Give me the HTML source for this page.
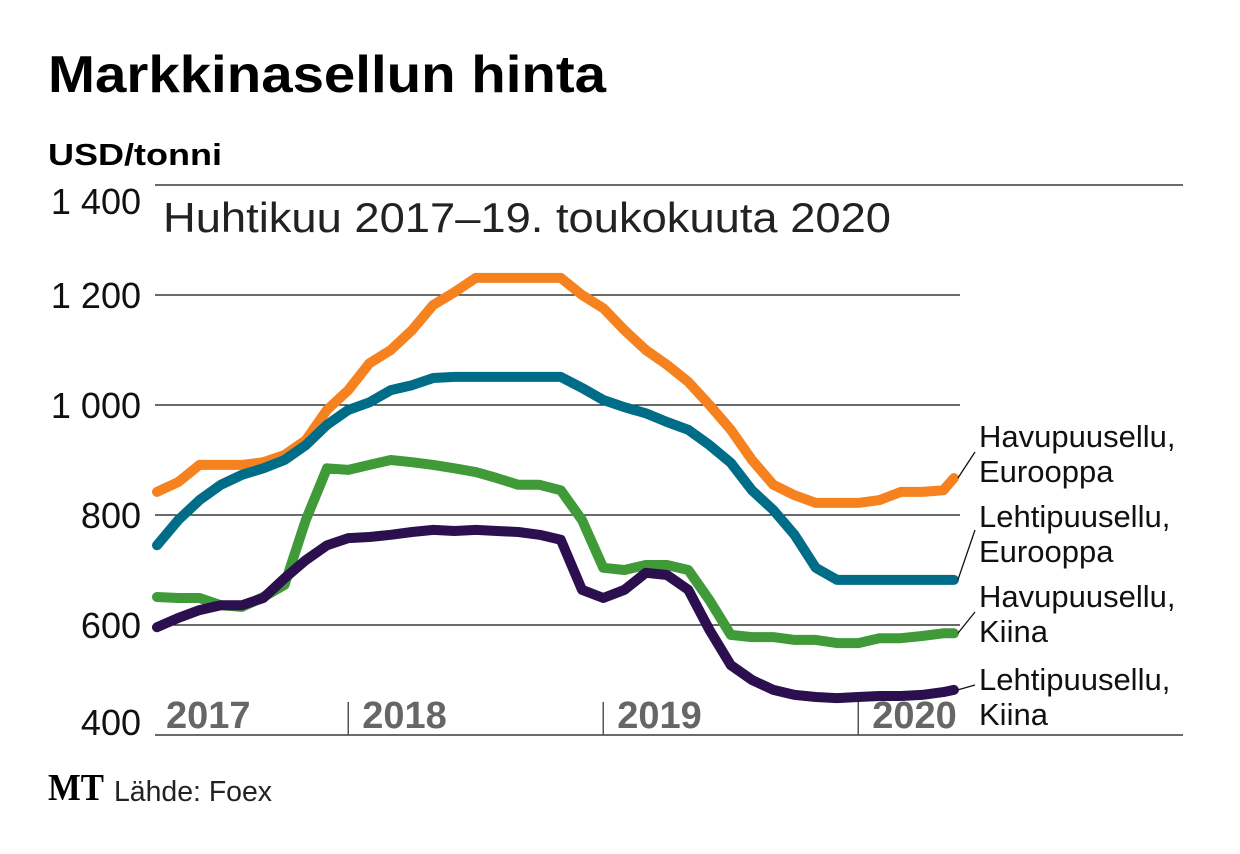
<!DOCTYPE html>
<html><head><meta charset="utf-8"><style>
body{margin:0;background:#fff;}
svg{display:block;font-family:"Liberation Sans",sans-serif;}
</style></head><body>
<svg id="chart" width="1240" height="854" viewBox="0 0 1240 854">
<text x="48" y="92" font-size="52" font-weight="bold" textLength="558" lengthAdjust="spacingAndGlyphs">Markkinasellun hinta</text>
<text x="48" y="165" font-size="31" font-weight="bold" textLength="174" lengthAdjust="spacingAndGlyphs">USD/tonni</text>
<g id="grid"></g>
<text x="163" y="232" font-size="42" fill="#222" textLength="728" lengthAdjust="spacingAndGlyphs">Huhtikuu 2017–19. toukokuuta 2020</text>
<g id="ylabels"></g>
<g id="years"></g>
<g id="lines"></g>
<g id="legend"></g>
<text x="48" y="800" font-size="38" font-weight="bold" font-family="Liberation Serif,serif" textLength="56" lengthAdjust="spacingAndGlyphs">MT</text>
<text x="114" y="801" font-size="29" fill="#222" textLength="158" lengthAdjust="spacingAndGlyphs">Lähde: Foex</text>
</svg>
<script>
const yTicks=[400,600,800,1000,1200,1400];
const yTickLabels=["400","600","800","1 000","1 200","1 400"];
const years=["2017","2018","2019","2020"];
const yearStartMonths=[-3,9,21,33];
const months=[0,1,2,3,4,5,6,7,8,9,10,11,12,13,14,15,16,17,18,19,20,21,22,23,24,25,26,27,28,29,30,31,32,33,34,35,36,37,37.5];
const havuEur=[842,860,891,891,891,896,909,936,991,1027,1076,1100,1136,1182,1205,1231,1231,1231,1231,1231,1200,1176,1136,1100,1073,1042,1000,955,900,855,836,822,822,822,827,842,842,845,867];
const lehtiEur=[745,791,827,855,873,885,900,927,964,991,1005,1027,1036,1049,1051,1051,1051,1051,1051,1051,1031,1009,996,985,969,955,927,895,845,809,764,704,682,682,682,682,682,682,682];
const havuKiina=[651,649,649,636,633,651,673,791,885,882,891,900,896,891,885,878,867,855,855,845,791,704,700,709,709,700,645,582,578,578,573,573,567,567,576,576,580,585,585];
const lehtiKiina=[596,613,627,636,636,649,685,718,745,758,760,764,769,773,771,773,771,769,764,755,664,649,664,695,691,664,591,527,500,482,473,469,467,469,471,471,473,478,482];
const seriesNames=["Havupuusellu, Eurooppa","Lehtipuusellu, Eurooppa","Havupuusellu, Kiina","Lehtipuusellu, Kiina"];
const NS="http://www.w3.org/2000/svg";
const xS=m=>157+21.25*m;
const yS=v=>735-(v-400)*0.55;
function mk(tag,attrs,parent){const e=document.createElementNS(NS,tag);for(const k in attrs)e.setAttribute(k,attrs[k]);parent.appendChild(e);return e;}
const grid=document.getElementById('grid');
yTicks.forEach((t,i)=>{
  const x2=(t===400||t===1400)?1183:960;
  const l=mk('line',{x1:155,x2:x2,y1:yS(t),y2:yS(t),stroke:'#111','stroke-width':1.3},grid);
  
  
  let by=yS(t)+13;
  if(t===1400)by=yS(t)+29;
  if(t===400)by=yS(t);
  const tx=mk('text',{x:141,y:by,'font-size':36,'text-anchor':'end',fill:'#111'},document.getElementById('ylabels'));
  tx.textContent=yTickLabels[i];
  
  
});
const yg=document.getElementById('years');
years.forEach((y,i)=>{
  const x=xS(yearStartMonths[i]);
  if(i>0){const l=mk('line',{x1:x,x2:x,y1:702,y2:735,stroke:'#555','stroke-width':1.5},yg);
    
    }
  const t=mk('text',{x:i===0?166:x+14,y:728,'font-size':38,'font-weight':'bold',fill:'#666'},yg);
  t.textContent=y;
  
  
});
const lg=document.getElementById('lines');
const data=[havuEur,lehtiEur,havuKiina,lehtiKiina];
const colors=["#f5821f","#006d88","#3f9a37","#2b0f4e"];
const order=[2,3,0,1];
order.forEach(i=>{
  const d=months.map((m,j)=>(j?'L':'M')+xS(m).toFixed(1)+','+yS(data[i][j]).toFixed(1)).join('');
  const p=mk('path',{d:d,fill:'none',stroke:colors[i],'stroke-width':10,'stroke-linejoin':'round','stroke-linecap':'round'},lg);
  
  
});
const leg=document.getElementById('legend');
const baseY=[447,527,607,690];
const leaderY=[452,530,612,685];
seriesNames.forEach((n,i)=>{
  const last=data[i][data[i].length-1];
  const sx=xS(months[months.length-1])+4, sy=yS(last);
  const l=mk('line',{x1:sx,y1:sy,x2:975,y2:leaderY[i],stroke:'#111','stroke-width':1.3},leg);
  
  
  const parts=n.split(' ');
  const by=baseY[i];
  const t=mk('text',{x:979,y:by,'font-size':31,fill:'#111'},leg);
  t.textContent=parts[0];
  
  
  const t2=mk('text',{x:979,y:by+35,'font-size':31,fill:'#111'},leg);
  t2.textContent=parts[1];
  
  
});
</script>
</body></html>
